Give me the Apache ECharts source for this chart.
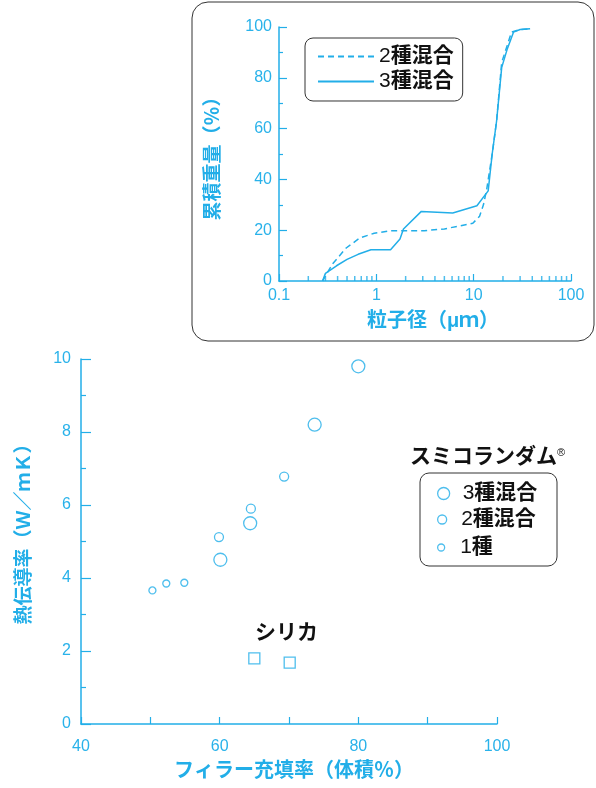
<!DOCTYPE html>
<html>
<head>
<meta charset="utf-8">
<script src="https://cdn.jsdelivr.net/npm/echarts@6/dist/echarts.min.js"></script>
<style>
  html, body { margin: 0; padding: 0; background: #fff; }
  #chart { width: 596px; height: 788px; }
</style>
</head>
<body>
<div id="chart"></div>
<script>
// 主图：熱伝導率 vs フィラー充填率
const mix3 = [[60.1, 4.5], [64.4, 5.5], [73.7, 8.2], [80.0, 9.8]]
const mix2 = [[59.9, 5.12], [64.5, 5.9], [69.3, 6.78]]
const mix1 = [[50.3, 3.66], [52.3, 3.85], [54.9, 3.87]]
const silica = [[65.0, 1.8], [70.1, 1.68]]
const mainNames = ['3種混合', '2種混合', '1種']

// 插图：粒度分布（粒子径 μm, 累積重量 %）
const curve2 = [[0.28, 0], [0.31, 3], [0.36, 7], [0.49, 13], [0.68, 17], [0.95, 18.8], [1.4, 19.8],
  [3.1, 19.8], [5.0, 20.5], [9.8, 22.7], [11.5, 25.5], [12.6, 30], [13.6, 36], [15.5, 50],
  [17.2, 63], [19.4, 86], [24.5, 98], [30, 99], [38, 99.3]]
const curve3 = [[0.28, 0], [0.30, 3], [0.39, 6], [0.5, 8.5], [0.65, 10.5], [0.88, 12.3], [1.4, 12.3],
  [1.75, 16.5], [1.9, 20.5], [2.9, 27.4], [6.1, 26.8], [10.8, 29.6], [14.1, 35.5], [15.5, 50],
  [17.2, 63], [19.4, 84], [22, 91], [25.7, 98], [30, 99], [38, 99.3]]
const insetNames = ['2種混合', '3種混合']
const insetXLabels = ['0.1', '1', '10', '100']
const minorMult = [2, 3, 4, 5, 6, 7, 8, 9]

const C = '#22aee8'
const TXT = '#29b2ea'
const FONT = '"Liberation Sans", "Noto Sans CJK JP", sans-serif'

//对数坐标转换
const toLog = arr => arr.map(p => [Math.log10(p[0]), p[1]])
//对数小刻度（用细矩形散点画在x轴上）
const minorTicks = []
for (let e = -1; e < 2; e++) {
  minorMult.forEach(k => minorTicks.push([e + Math.log10(k), 0]))
}
//插图系列名加空格，避免和主图图例同名
const lineName = n => n + ' '

const richLegend = {
  n: { fontFamily: FONT, fontSize: 21, color: '#111' },
  k: { fontFamily: FONT, fontSize: 21, fontWeight: 'bold', color: '#111' }
}
const fmtLegend = name => {
  let s = name.trim()
  return '{n|' + s[0] + '}{k|' + s.slice(1) + '}'
}

const ringStyle = { color: 'rgba(0,0,0,0)', borderColor: C, borderWidth: 1.3 }

function mainLegend(name, size, top) {
  return {
    data: [name],
    orient: 'vertical',
    left: 437,
    top: top,
    padding: 0,
    itemWidth: 28,
    itemHeight: size,
    selectedMode: false,
    itemStyle: ringStyle,
    textStyle: { rich: richLegend },
    formatter: fmtLegend
  }
}

let chart = echarts.init(document.getElementById('chart'))
chart.setOption({
  animation: false,
  textStyle: { fontFamily: FONT },
  grid: [
    { left: 81, right: 99, top: 359, bottom: 64 },
    { left: 279, right: 25, top: 27, bottom: 507 }
  ],
  xAxis: [
    {
      gridIndex: 0, type: 'value', min: 40, max: 100, interval: 20,
      name: 'フィラー充填率（体積％）', nameLocation: 'middle', nameGap: 37,
      nameTextStyle: { color: C, fontSize: 20, fontWeight: 'bold', padding: [0, 0, 0, 10] },
      axisLine: { onZero: false, lineStyle: { color: C, width: 1.5 } },
      axisTick: { inside: true, length: 7, lineStyle: { color: C, width: 1.2 } },
      minorTick: { show: true, splitNumber: 2, length: 7, lineStyle: { color: C, width: 1.2 } },
      axisLabel: { color: TXT, fontSize: 16, margin: 15 },
      splitLine: { show: false }
    },
    {
      gridIndex: 1, type: 'value', min: -1, max: 2, interval: 1, position: 'bottom',
      name: '粒子径（μｍ）', nameLocation: 'middle', nameGap: 30,
      nameTextStyle: { color: C, fontSize: 20, fontWeight: 'bold', padding: [0, 0, 0, 16] },
      axisLine: { onZero: false, lineStyle: { color: C, width: 1.5 } },
      axisTick: { inside: true, length: 7, lineStyle: { color: C, width: 1.2 } },
      axisLabel: { color: TXT, fontSize: 16, margin: 7, formatter: v => insetXLabels[Math.round(v) + 1] },
      splitLine: { show: false }
    }
  ],
  yAxis: [
    {
      gridIndex: 0, type: 'value', min: 0, max: 10, interval: 2,
      name: '熱伝導率（Ｗ／ｍＫ）', nameLocation: 'middle', nameGap: 47, nameRotate: 90,
      nameTextStyle: { color: C, fontSize: 19, fontWeight: 'bold', padding: [0, 0, 0, 24] },
      axisLine: { show: true, onZero: false, lineStyle: { color: C, width: 1.5 } },
      axisTick: { show: true, inside: true, length: 10, lineStyle: { color: C, width: 1.2 } },
      minorTick: { show: true, splitNumber: 2, length: 5, lineStyle: { color: C, width: 1.2 } },
      axisLabel: { color: TXT, fontSize: 16, margin: 10 },
      splitLine: { show: false }
    },
    {
      gridIndex: 1, type: 'value', min: 0, max: 100, interval: 20,
      name: '累積重量（％）', nameLocation: 'middle', nameGap: 56, nameRotate: 90,
      nameTextStyle: { color: C, fontSize: 19, fontWeight: 'bold' },
      axisLine: { show: true, onZero: false, lineStyle: { color: C, width: 1.5 } },
      axisTick: { show: true, inside: true, length: 8, lineStyle: { color: C, width: 1.2 } },
      minorTick: { show: true, splitNumber: 2, length: 4, lineStyle: { color: C, width: 1.2 } },
      axisLabel: { color: TXT, fontSize: 16, margin: 7 },
      splitLine: { show: false }
    }
  ],
  legend: [
    mainLegend(mainNames[0], 12, 483),
    mainLegend(mainNames[1], 9, 509),
    mainLegend(mainNames[2], 7, 537),
    {
      data: insetNames.map(lineName),
      orient: 'vertical',
      left: 305,
      top: 38,
      padding: [8, 9, 9, 12],
      itemGap: 4,
      itemWidth: 56,
      itemHeight: 14,
      selectedMode: false,
      borderColor: '#333',
      borderWidth: 1,
      borderRadius: 8,
      itemStyle: { color: 'rgba(0,0,0,0)', borderColor: 'rgba(0,0,0,0)', borderWidth: 0 },
      textStyle: { rich: richLegend },
      formatter: fmtLegend
    }
  ],
  graphic: [
    {
      type: 'rect', shape: { x: 192, y: 2, width: 402, height: 339, r: 16 },
      style: { fill: 'none', stroke: '#333', lineWidth: 1 }, silent: true
    },
    {
      type: 'rect', shape: { x: 420, y: 473, width: 137, height: 93, r: 9 },
      style: { fill: 'none', stroke: '#333', lineWidth: 1 }, silent: true
    },
    {
      type: 'text', left: 410, top: 447, silent: true,
      style: {
        text: '{t|スミコランダム}{r|®}',
        rich: {
          t: { fontFamily: FONT, fontSize: 21, fontWeight: 'bold', fill: '#111' },
          r: { fontFamily: FONT, fontSize: 11, fill: '#111', verticalAlign: 'top' }
        }
      }
    },
    {
      type: 'text', left: 255, top: 623, silent: true,
      style: { text: 'シリカ', fontFamily: FONT, fontSize: 21, fontWeight: 'bold', fill: '#111' }
    }
  ],
  series: [
    { name: mainNames[0], type: 'scatter', xAxisIndex: 0, yAxisIndex: 0, symbol: 'circle', symbolSize: 13, itemStyle: ringStyle, data: mix3 },
    { name: mainNames[1], type: 'scatter', xAxisIndex: 0, yAxisIndex: 0, symbol: 'circle', symbolSize: 9, itemStyle: ringStyle, data: mix2 },
    { name: mainNames[2], type: 'scatter', xAxisIndex: 0, yAxisIndex: 0, symbol: 'circle', symbolSize: 7, itemStyle: ringStyle, data: mix1 },
    { name: 'シリカ', type: 'scatter', xAxisIndex: 0, yAxisIndex: 0, symbol: 'rect', symbolSize: 11, itemStyle: ringStyle, data: silica },
    {
      name: lineName(insetNames[0]), type: 'line', xAxisIndex: 1, yAxisIndex: 1, symbol: 'none',
      lineStyle: { color: C, width: 1.5, type: [6, 4] }, itemStyle: { color: C }, data: toLog(curve2)
    },
    {
      name: lineName(insetNames[1]), type: 'line', xAxisIndex: 1, yAxisIndex: 1, symbol: 'none',
      lineStyle: { color: C, width: 1.5 }, itemStyle: { color: C }, data: toLog(curve3)
    },
    {
      name: 'minorTick', type: 'scatter', xAxisIndex: 1, yAxisIndex: 1, silent: true, clip: false, z: 5,
      symbol: 'rect', symbolSize: [1.5, 5], symbolOffset: [0, -2.5],
      itemStyle: { color: C, borderWidth: 0 }, data: minorTicks
    }
  ]
})
</script>
</body>
</html>
